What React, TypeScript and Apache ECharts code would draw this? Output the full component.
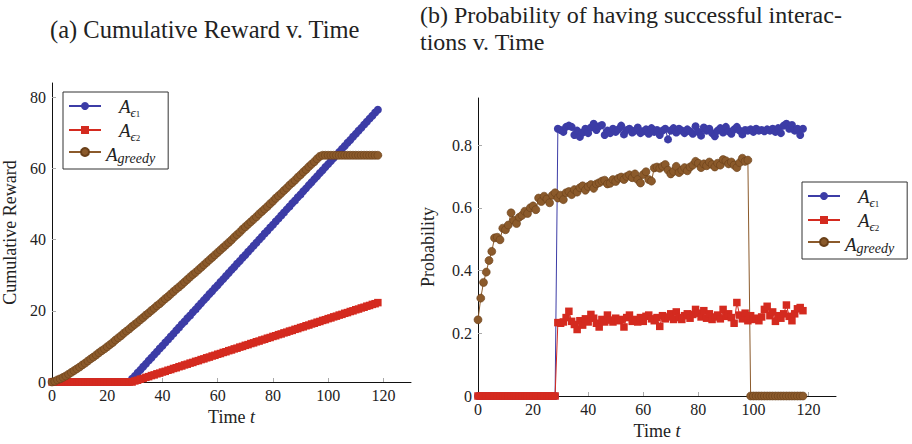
import React, { useEffect, useRef } from 'react';
import * as echarts from 'echarts';

const FONT = '"Liberation Serif", "DejaVu Serif", serif';
const BLUE = '#3c3ca6';
const RED = '#d42a1f';
const BROWN = '#8b5a2b';

const tickT = [0, 20, 40, 60, 80, 100, 120];
const tickReward = [0, 20, 40, 60, 80];
const tickProb = [0, 0.2, 0.4, 0.6, 0.8];
const seriesNames = ['eps1', 'eps2', 'greedy'];

// (a) cumulative reward, t = 0..118
const rewardEps1 = [
  0, 0, 0, 0, 0, 0, 0, 0, 0, 0,
  0, 0, 0, 0, 0, 0, 0, 0, 0, 0,
  0, 0, 0, 0, 0, 0, 0, 0, 0, 0.9,
  1.7, 2.6, 3.4, 4.3, 5.1, 6.0, 6.8, 7.7, 8.5, 9.4,
  10.2, 11.1, 11.9, 12.8, 13.6, 14.5, 15.3, 16.2, 17.0, 17.9,
  18.7, 19.6, 20.4, 21.3, 22.1, 23.0, 23.8, 24.7, 25.5, 26.4,
  27.2, 28.1, 28.9, 29.8, 30.6, 31.5, 32.3, 33.2, 34.0, 34.9,
  35.7, 36.6, 37.4, 38.3, 39.1, 40.0, 40.8, 41.7, 42.5, 43.4,
  44.2, 45.1, 45.9, 46.8, 47.6, 48.5, 49.3, 50.2, 51.0, 51.9,
  52.7, 53.6, 54.4, 55.3, 56.1, 57.0, 57.8, 58.7, 59.5, 60.4,
  61.2, 62.1, 62.9, 63.8, 64.6, 65.5, 66.3, 67.2, 68.0, 68.9,
  69.7, 70.6, 71.4, 72.3, 73.1, 74.0, 74.8, 75.7, 76.5,
];
const rewardEps2 = [
  0, 0, 0, 0, 0, 0, 0, 0, 0, 0,
  0, 0, 0, 0, 0, 0, 0, 0, 0, 0,
  0, 0, 0, 0, 0, 0, 0, 0, 0, 0,
  0.3, 0.5, 0.8, 1.0, 1.3, 1.5, 1.8, 2.0, 2.3, 2.5,
  2.8, 3.0, 3.3, 3.5, 3.8, 4.0, 4.3, 4.5, 4.8, 5.0,
  5.3, 5.5, 5.8, 6.0, 6.3, 6.5, 6.8, 7.0, 7.3, 7.5,
  7.8, 8.0, 8.3, 8.5, 8.8, 9.0, 9.3, 9.5, 9.8, 10.0,
  10.3, 10.5, 10.8, 11.0, 11.3, 11.5, 11.8, 12.0, 12.3, 12.5,
  12.8, 13.0, 13.3, 13.5, 13.8, 14.0, 14.3, 14.5, 14.8, 15.0,
  15.3, 15.5, 15.8, 16.0, 16.3, 16.5, 16.8, 17.0, 17.3, 17.5,
  17.8, 18.0, 18.3, 18.5, 18.8, 19.0, 19.3, 19.5, 19.8, 20.0,
  20.3, 20.5, 20.8, 21.0, 21.3, 21.5, 21.8, 22.0, 22.3,
];
const rewardGreedy = [
  0, 0.2, 0.6, 0.9, 1.3, 1.7, 2.2, 2.7, 3.2, 3.7,
  4.2, 4.8, 5.3, 5.9, 6.5, 7.0, 7.6, 8.2, 8.8, 9.3,
  9.9, 10.5, 11.1, 11.8, 12.4, 13.0, 13.7, 14.3, 14.9, 15.6,
  16.2, 16.8, 17.5, 18.1, 18.8, 19.4, 20.1, 20.7, 21.4, 22.0,
  22.7, 23.4, 24.0, 24.7, 25.4, 26.1, 26.7, 27.4, 28.1, 28.8,
  29.5, 30.2, 30.8, 31.5, 32.2, 32.9, 33.6, 34.3, 35.0, 35.7,
  36.4, 37.1, 37.8, 38.5, 39.2, 39.9, 40.7, 41.4, 42.1, 42.9,
  43.6, 44.3, 45.0, 45.7, 46.4, 47.2, 47.9, 48.6, 49.3, 50.1,
  50.8, 51.6, 52.3, 53.0, 53.8, 54.5, 55.3, 56.0, 56.7, 57.5,
  58.2, 59.0, 59.7, 60.5, 61.2, 61.9, 62.7, 63.4, 63.7, 63.7,
  63.7, 63.7, 63.7, 63.7, 63.7, 63.7, 63.7, 63.7, 63.7, 63.7,
  63.7, 63.7, 63.7, 63.7, 63.7, 63.7, 63.7, 63.7, 63.7,
];

// (b) probability of successful interactions, t = 0..118
const probEps1 = [
  0, 0, 0, 0, 0, 0, 0, 0, 0, 0,
  0, 0, 0, 0, 0, 0, 0, 0, 0, 0,
  0, 0, 0, 0, 0, 0, 0, 0, 0, 0.852,
  0.848, 0.842, 0.858, 0.862, 0.858, 0.832, 0.846, 0.826, 0.840, 0.852,
  0.838, 0.856, 0.868, 0.848, 0.860, 0.864, 0.832, 0.846, 0.838, 0.852,
  0.842, 0.850, 0.862, 0.834, 0.848, 0.852, 0.840, 0.846, 0.856, 0.838,
  0.844, 0.850, 0.836, 0.854, 0.842, 0.848, 0.832, 0.846, 0.852, 0.818,
  0.846, 0.854, 0.840, 0.852, 0.846, 0.838, 0.850, 0.844, 0.836, 0.860,
  0.842, 0.830, 0.856, 0.846, 0.852, 0.838, 0.828, 0.846, 0.854, 0.840,
  0.858, 0.844, 0.836, 0.850, 0.858, 0.846, 0.834, 0.848, 0.846, 0.850,
  0.842, 0.852, 0.846, 0.848, 0.844, 0.850, 0.846, 0.852, 0.842, 0.854,
  0.838, 0.862, 0.868, 0.852, 0.864, 0.846, 0.852, 0.832, 0.852,
];
const probEps2 = [
  0, 0, 0, 0, 0, 0, 0, 0, 0, 0,
  0, 0, 0, 0, 0, 0, 0, 0, 0, 0,
  0, 0, 0, 0, 0, 0, 0, 0, 0, 0.234,
  0.232, 0.236, 0.250, 0.270, 0.238, 0.228, 0.212, 0.240, 0.226, 0.246,
  0.236, 0.260, 0.248, 0.232, 0.220, 0.244, 0.236, 0.258, 0.242, 0.236,
  0.248, 0.240, 0.244, 0.220, 0.250, 0.258, 0.238, 0.244, 0.236, 0.250,
  0.238, 0.254, 0.258, 0.246, 0.240, 0.250, 0.222, 0.256, 0.246, 0.252,
  0.262, 0.244, 0.268, 0.250, 0.244, 0.256, 0.262, 0.248, 0.260, 0.276,
  0.264, 0.252, 0.272, 0.248, 0.262, 0.244, 0.252, 0.258, 0.246, 0.276,
  0.254, 0.262, 0.250, 0.232, 0.298, 0.258, 0.246, 0.264, 0.240, 0.256,
  0.244, 0.248, 0.240, 0.252, 0.276, 0.286, 0.256, 0.268, 0.238, 0.256,
  0.248, 0.262, 0.290, 0.254, 0.240, 0.262, 0.278, 0.282, 0.272,
];
const probGreedy = [
  0.243, 0.312, 0.362, 0.395, 0.432, 0.461, 0.504, 0.506, 0.498, 0.535,
  0.530, 0.545, 0.584, 0.560, 0.550, 0.570, 0.576, 0.589, 0.582, 0.600,
  0.606, 0.594, 0.631, 0.620, 0.637, 0.628, 0.616, 0.640, 0.648, 0.631,
  0.640, 0.626, 0.648, 0.652, 0.642, 0.658, 0.650, 0.664, 0.670, 0.656,
  0.668, 0.674, 0.662, 0.676, 0.680, 0.685, 0.688, 0.676, 0.678, 0.690,
  0.684, 0.694, 0.698, 0.690, 0.700, 0.705, 0.696, 0.708, 0.690, 0.679,
  0.706, 0.715, 0.690, 0.685, 0.727, 0.730, 0.726, 0.732, 0.738, 0.720,
  0.708, 0.716, 0.732, 0.712, 0.720, 0.728, 0.718, 0.730, 0.736, 0.748,
  0.742, 0.728, 0.740, 0.734, 0.746, 0.738, 0.730, 0.742, 0.736, 0.754,
  0.750, 0.740, 0.746, 0.736, 0.728, 0.744, 0.758, 0.748, 0.752, 0,
  0, 0, 0, 0, 0, 0, 0, 0, 0, 0,
  0, 0, 0, 0, 0, 0, 0, 0, 0,
];

const pairs = (arr: number[]) => arr.map((v, i) => [i, v]);

const TEXT = '#222';

const richLegend = {
  sp: { width: 13, height: 22, verticalAlign: 'top' },
  a: { fontFamily: FONT, fontStyle: 'italic', fontSize: 19, lineHeight: 18, padding: [2, 0, 2, 0], verticalAlign: 'top', color: TEXT },
  e: { fontFamily: FONT, fontStyle: 'italic', fontSize: 13, lineHeight: 11, padding: [11, 0, 0, 0], verticalAlign: 'top', color: TEXT },
  n: { fontFamily: FONT, fontSize: 9, lineHeight: 8, padding: [14, 0, 0, 0], verticalAlign: 'top', color: TEXT },
  g: { fontFamily: FONT, fontStyle: 'italic', fontSize: 14, lineHeight: 12, padding: [8, 0, 2, 0], verticalAlign: 'top', color: TEXT },
};

const legendFormatter = (name: string) => {
  if (name === 'eps1') return '{sp|}{a|A}{e|ϵ}{n|1}';
  if (name === 'eps2') return '{sp|}{a|A}{e|ϵ}{n|2}';
  return '{a|A}{g|greedy}';
};

const legendCommon = {
  data: seriesNames,
  orient: 'vertical',
  itemWidth: 32,
  itemHeight: 10,
  itemGap: 0,
  padding: [3, 13, 2, 5],
  borderColor: '#333',
  borderWidth: 1,
  backgroundColor: '#fff',
  selectedMode: false,
  formatter: legendFormatter,
  textStyle: { fontFamily: FONT, fontSize: 16, color: TEXT, rich: richLegend },
};

const axisLabelStyle = { fontFamily: FONT, fontSize: 16, color: TEXT };
const nameRich = {
  n: { fontFamily: FONT, fontSize: 18, color: TEXT },
  i: { fontFamily: FONT, fontSize: 18, fontStyle: 'italic', color: TEXT },
};

const makeXAxis = (gridIndex: number, gap: number) => ({
  type: 'value',
  gridIndex,
  min: 0,
  max: 130,
  interval: 20,
  name: '{n|Time }{i|t}',
  nameLocation: 'middle',
  nameGap: gap,
  nameTextStyle: { rich: nameRich },
  axisLine: { show: true, onZero: false, lineStyle: { color: '#111', width: 1 } },
  axisTick: { show: true, inside: true, length: 4, customValues: tickT, lineStyle: { color: '#aaa' } },
  axisLabel: { ...axisLabelStyle, margin: 5, customValues: tickT },
  splitLine: { show: false },
});

const makeSeries = (
  name: string,
  data: number[],
  idx: number,
  color: string,
  symbol: string,
  size: number,
  border?: string,
) => ({
  name,
  type: 'line',
  xAxisIndex: idx,
  yAxisIndex: idx,
  data: pairs(data),
  symbol,
  symbolSize: size,
  showSymbol: true,
  lineStyle: { color, width: 1 },
  itemStyle: border ? { color, borderColor: border, borderWidth: 0.6 } : { color, borderWidth: 0 },
  emphasis: { disabled: true },
  silent: true,
  z: 2,
});

const titleStyle = { fontFamily: FONT, fontSize: 24.5, fontWeight: 'normal', color: TEXT };

const option = {
  animation: false,
  backgroundColor: '#fff',
  title: [
    {
      text: '(a) Cumulative Reward v. Time',
      left: 50,
      top: 16,
      padding: 0,
      textStyle: { ...titleStyle, lineHeight: 26 },
    },
    {
      text: '(b) Probability of having successful interac-\ntions v. Time',
      left: 420,
      top: 1,
      padding: 0,
      textStyle: { ...titleStyle, fontSize: 24, lineHeight: 27 },
    },
  ],
  legend: [
    { ...legendCommon, left: 63, top: 92 },
    { ...legendCommon, left: 802, top: 182 },
  ],
  grid: [
    { left: 52, top: 83, width: 359, height: 299, outerBoundsMode: 'none', containLabel: false },
    { left: 478, top: 98, width: 358, height: 298, outerBoundsMode: 'none', containLabel: false },
  ],
  xAxis: [makeXAxis(0, 24), makeXAxis(1, 25)],
  yAxis: [
    {
      type: 'value',
      gridIndex: 0,
      min: 0,
      max: 84,
      interval: 20,
      name: 'Cumulative Reward',
      nameLocation: 'middle',
      nameGap: 33,
      nameTextStyle: { fontFamily: FONT, fontSize: 18, color: TEXT },
      axisLine: { show: true, onZero: false, lineStyle: { color: '#111', width: 1 } },
      axisTick: { show: true, inside: true, length: 4, customValues: tickReward, lineStyle: { color: '#aaa' } },
      axisLabel: { ...axisLabelStyle, margin: 6, customValues: tickReward },
      splitLine: { show: false },
    },
    {
      type: 'value',
      gridIndex: 1,
      min: 0,
      max: 0.95,
      interval: 0.2,
      name: 'Probability',
      nameLocation: 'middle',
      nameGap: 41,
      nameTextStyle: { fontFamily: FONT, fontSize: 18, color: TEXT },
      axisLine: { show: true, onZero: false, lineStyle: { color: '#111', width: 1 } },
      axisTick: { show: true, inside: true, length: 4, customValues: tickProb, lineStyle: { color: '#aaa' } },
      axisLabel: { ...axisLabelStyle, margin: 6, customValues: tickProb },
      splitLine: { show: false },
    },
  ],
  series: [
    makeSeries('eps1', rewardEps1, 0, BLUE, 'circle', 8),
    makeSeries('eps2', rewardEps2, 0, RED, 'rect', 7.5),
    makeSeries('greedy', rewardGreedy, 0, BROWN, 'circle', 8, '#6a4019'),
    makeSeries('eps1', probEps1, 1, BLUE, 'circle', 8),
    makeSeries('eps2', probEps2, 1, RED, 'rect', 7.5),
    makeSeries('greedy', probGreedy, 1, BROWN, 'circle', 8, '#6a4019'),
  ],
};

export default function App() {
  const ref = useRef<HTMLDivElement>(null);
  useEffect(() => {
    if (!ref.current) return;
    const chart = echarts.init(ref.current, null, { renderer: 'svg' });
    chart.setOption(option as any);
    return () => chart.dispose();
  }, []);
  return (
    <div
      ref={ref}
      style={{ position: 'absolute', left: 0, top: 0, width: 912, height: 444, background: '#fff' }}
    />
  );
}
